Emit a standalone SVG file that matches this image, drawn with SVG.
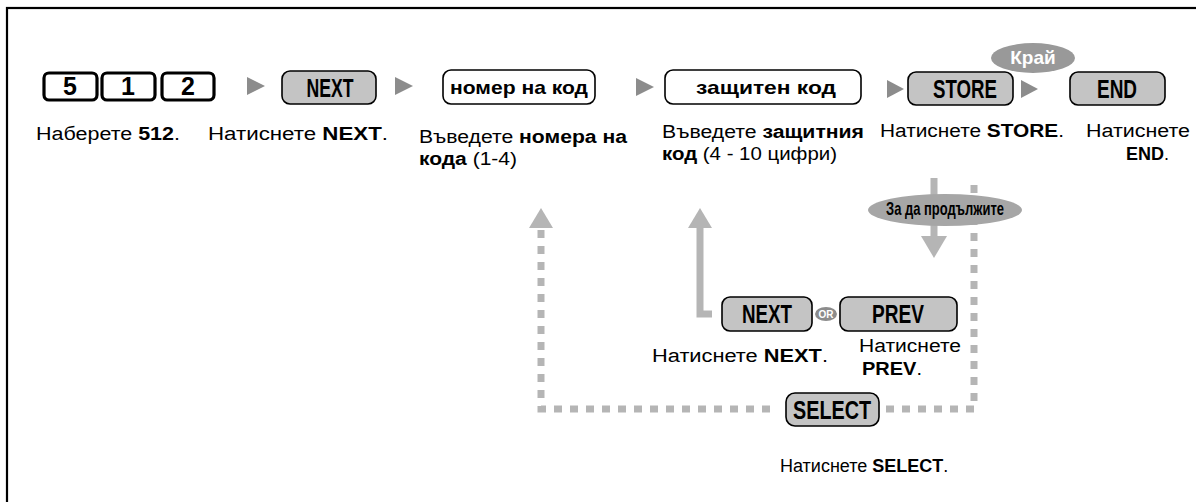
<svg xmlns="http://www.w3.org/2000/svg" width="1196" height="502" viewBox="0 0 1196 502">
<style>
.lbl{font-family:"Liberation Sans",Arial,sans-serif;font-size:18px;fill:#000}
.b{font-weight:bold}
.btn{fill:#c4c4c4;stroke:#000;stroke-width:1.6}
.box{fill:#fff;stroke:#000;stroke-width:1.6}
.key{fill:#fff;stroke:#000;stroke-width:3.2}
.bt{font-family:"Liberation Sans",Arial,sans-serif;font-weight:bold;font-size:25px;fill:#000;text-anchor:middle}
.bx{font-family:"Liberation Sans",Arial,sans-serif;font-weight:bold;font-size:19px;fill:#000;text-anchor:middle}
.tri{fill:#8c8c8c}
.arr{fill:none;stroke:#b5b5b5;stroke-width:7}
.dash{fill:none;stroke:#b5b5b5;stroke-width:7;stroke-dasharray:8 8}
.head{fill:#b5b5b5}
</style>
<rect x="7" y="8" width="1200" height="510" fill="#fff" stroke="#000" stroke-width="2.2"/>

<g id="connectors">
  <polygon class="tri" points="247,77 265,86 247,95"/>
  <polygon class="tri" points="395,77 413,86 395,95"/>
  <polygon class="tri" points="636,78 654,87 636,96"/>
  <polygon class="tri" points="887,80 904,89 887,98"/>
  <polygon class="tri" points="1021,80 1038,89 1021,98"/>
  <path class="dash" d="M541,230 V409 H778"/>
  <path class="dash" d="M886,409 H974 V178"/>
  <polygon class="head" points="529,228 553,228 541,208"/>
  <path class="arr" d="M700,226 V314 H712"/>
  <polygon class="head" points="688,228 712,228 700,208"/>
  <path class="arr" d="M934,178 V238"/>
  <polygon class="head" points="921,236 947,236 934,258"/>
</g>

<g id="key512">
  <rect class="key" x="44" y="73" width="53" height="27" rx="5"/>
  <text class="bt" x="70" y="95" font-size="19">5</text>
  <rect class="key" x="102" y="73" width="53" height="27" rx="5"/>
  <text class="bt" x="128" y="95" font-size="19">1</text>
  <rect class="key" x="162" y="73" width="52" height="27" rx="5"/>
  <text class="bt" x="188" y="95" font-size="19">2</text>
</g>
<g id="next1">
  <rect class="btn" x="282" y="71" width="94" height="33" rx="8"/>
  <text class="bt" x="330" y="97" textLength="47" lengthAdjust="spacingAndGlyphs">NEXT</text>
</g>
<g id="codeno">
  <rect class="box" x="443" y="70" width="152" height="34" rx="8"/>
  <text class="bx" x="519" y="94" textLength="138" lengthAdjust="spacingAndGlyphs">номер на код</text>
</g>
<g id="seccode">
  <rect class="box" x="665" y="70" width="196" height="34" rx="8"/>
  <text class="bx" x="766" y="94" textLength="140" lengthAdjust="spacingAndGlyphs">защитен код</text>
</g>
<g id="store">
  <rect class="btn" x="908" y="72" width="105" height="33" rx="8"/>
  <text class="bt" x="965" y="98" textLength="64" lengthAdjust="spacingAndGlyphs">STORE</text>
</g>
<g id="end">
  <rect class="btn" x="1070" y="72" width="95" height="33" rx="8"/>
  <text class="bt" x="1117" y="98" textLength="40" lengthAdjust="spacingAndGlyphs">END</text>
</g>
<g id="kray">
  <ellipse cx="1033" cy="58" rx="42" ry="15" fill="#999"/>
  <text class="bx" x="1033" y="64" style="fill:#fff" font-size="17">Край</text>
</g>
<g id="continue">
  <ellipse cx="945" cy="210" rx="77" ry="16" fill="#a6a6a6"/>
  <text class="bx" x="945" y="215" font-size="13" textLength="118" lengthAdjust="spacingAndGlyphs">За да продължите</text>
</g>
<g id="next2">
  <rect class="btn" x="722" y="297" width="90" height="34" rx="8"/>
  <text class="bt" x="767" y="323" textLength="50" lengthAdjust="spacingAndGlyphs">NEXT</text>
</g>
<g id="or">
  <ellipse cx="826" cy="314" rx="11" ry="7" fill="#8c8c8c"/>
  <text x="826" y="317.5" font-family="Liberation Sans, Arial, sans-serif" font-weight="bold" font-size="10" fill="#fff" text-anchor="middle">OR</text>
</g>
<g id="prev">
  <rect class="btn" x="840" y="297" width="117" height="34" rx="8"/>
  <text class="bt" x="898" y="323" textLength="52" lengthAdjust="spacingAndGlyphs">PREV</text>
</g>
<g id="select">
  <rect class="btn" x="786" y="393" width="93" height="33" rx="9"/>
  <text class="bt" x="832" y="419" textLength="78" lengthAdjust="spacingAndGlyphs">SELECT</text>
</g>

<g id="labels">
  <text class="lbl" x="36" y="140" textLength="144" lengthAdjust="spacingAndGlyphs">Наберете <tspan class="b">512</tspan>.</text>
  <text class="lbl" x="208" y="140" textLength="180" lengthAdjust="spacingAndGlyphs">Натиснете <tspan class="b">NEXT</tspan>.</text>
  <text class="lbl" x="419" y="143" textLength="208" lengthAdjust="spacingAndGlyphs">Въведете <tspan class="b">номера на</tspan></text>
  <text class="lbl" x="419" y="165" textLength="98" lengthAdjust="spacingAndGlyphs"><tspan class="b">кода</tspan> (1-4)</text>
  <text class="lbl" x="662" y="138" textLength="202" lengthAdjust="spacingAndGlyphs">Въведете <tspan class="b">защитния</tspan></text>
  <text class="lbl" x="662" y="160" textLength="175" lengthAdjust="spacingAndGlyphs"><tspan class="b">код</tspan> (4 - 10 цифри)</text>
  <text class="lbl" x="880" y="137" textLength="184" lengthAdjust="spacingAndGlyphs">Натиснете <tspan class="b">STORE</tspan>.</text>
  <text class="lbl" x="1086" y="137" textLength="104" lengthAdjust="spacingAndGlyphs">Натиснете</text>
  <text class="lbl" x="1126" y="160"><tspan class="b">END</tspan>.</text>
  <text class="lbl" x="652" y="362" textLength="176" lengthAdjust="spacingAndGlyphs">Натиснете  <tspan class="b">NEXT</tspan>.</text>
  <text class="lbl" x="859" y="352" textLength="102" lengthAdjust="spacingAndGlyphs">Натиснете</text>
  <text class="lbl" x="862" y="375" textLength="60" lengthAdjust="spacingAndGlyphs"><tspan class="b">PREV</tspan>.</text>
  <text class="lbl" x="780" y="472" font-size="17">Натиснете <tspan class="b">SELECT</tspan>.</text>
</g>
</svg>
